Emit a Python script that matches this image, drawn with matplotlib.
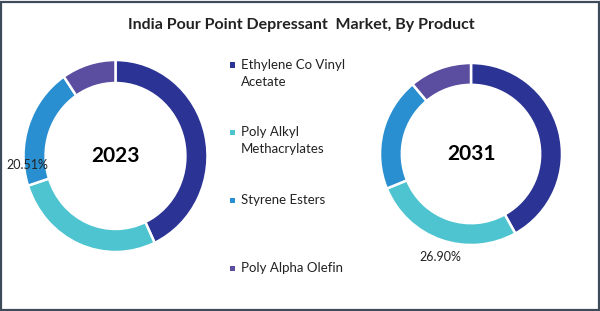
import matplotlib.pyplot as plt
from matplotlib.patches import Rectangle

plt.rcParams['font.family'] = ['Lato', 'DejaVu Sans']

products = ["Ethylene Co Vinyl\nAcetate", "Poly Alkyl\nMethacrylates", "Styrene Esters", "Poly Alpha Olefin"]
share_2023 = [43.0, 27.0, 20.51, 9.49]
share_2031 = [41.9, 26.9, 20.1, 11.1]
colors = ["#2B3494", "#4DC4D0", "#2A8FD0", "#5B4DA0"]

W, H = 600, 311
fig = plt.figure(figsize=(W / 100, H / 100), dpi=100)
fig.patch.set_facecolor("white")


def donut(cx, cy, rx, ry, values, year, label, label_xy):
    # place axes so that radius 1 maps to rx/ry pixels, cx/cy from top-left
    ax = fig.add_axes([(cx - 1.3 * rx) / W, 1 - (cy + 1.3 * ry) / H,
                       2.6 * rx / W, 2.6 * ry / H])
    ax.pie(values, colors=colors, startangle=90, counterclock=False, radius=1,
           wedgeprops=dict(width=0.24, edgecolor="white", linewidth=1.8))
    ax.set_xlim(-1.3, 1.3)
    ax.set_ylim(-1.3, 1.3)
    ax.set_aspect("auto")
    ax.axis("off")
    ax.text(0, 0, year, ha="center", va="center", fontsize=15, fontweight="bold", color="black")
    ax.text(label_xy[0], label_xy[1], label, ha="center", va="center", fontsize=9, color="#222222")
    return ax


donut(115.5, 156, 92, 96, share_2023, "2023", "%.2f%%" % share_2023[2], (-0.96, -0.09))
donut(471, 154, 91, 91, share_2031, "2031", "%.2f%%" % share_2031[1], (-0.34, -1.13))

fig.text(0.503, 1 - 25 / H, "India Pour Point Depressant  Market, By Product",
         ha="center", va="center", fontsize=11.5, fontweight="bold", color="#222222")

# legend
legend_y = [65, 132, 200, 268]
for name, col, y in zip(products, colors, legend_y):
    fig.patches.append(Rectangle((229.5 / W, 1 - (y + 3) / H), 5.5 / W, 5.5 / H,
                                 transform=fig.transFigure, facecolor=col, edgecolor="none"))
    fig.text(241 / W, 1 - (y - 6) / H, name, ha="left", va="top", fontsize=9.5,
             color="#222222", linespacing=1.55)

# outer frame
fig.patches.append(Rectangle((0.5 / W, 1.5 / H), 598 / W, 308 / H, transform=fig.transFigure,
                             facecolor="none", edgecolor="#3E4B5B", linewidth=1.6))

fig.savefig("out.png", dpi=100)
